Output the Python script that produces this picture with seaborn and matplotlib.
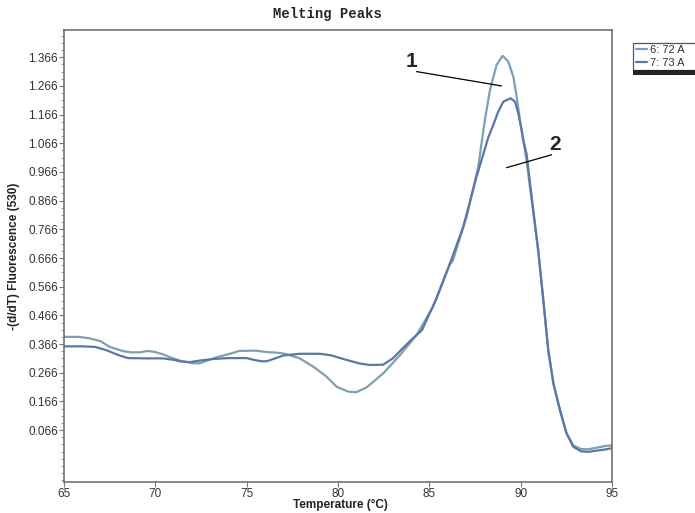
import numpy as np
import pandas as pd
import matplotlib
matplotlib.use("Agg")
import matplotlib.pyplot as plt
from matplotlib.patches import Rectangle
from matplotlib.ticker import MultipleLocator, FixedLocator
import seaborn as sns

# ---- data ----
temp_6 = [65.0, 65.8, 66.4, 67.0, 67.5, 68.25, 68.7, 69.16, 69.6, 70.0, 70.43, 70.8, 71.35, 72.08,
          72.44, 72.81, 73.36, 74.09, 74.6, 75.5, 76.09, 76.64, 77.0, 77.37, 77.9, 78.65, 79.38,
          79.93, 80.56, 81.0, 81.57, 82.48, 83.4, 84.3, 85.2, 86.1, 86.3, 87.04, 87.68, 88.04,
          88.32, 88.68, 89.01, 89.32, 89.6, 89.78, 89.96, 90.14, 90.32, 90.6, 90.96, 91.24, 91.51,
          91.79, 92.15, 92.51, 92.88, 93.3, 93.7, 94.1, 94.6, 95.0]
fluo_6 = [0.391, 0.391, 0.386, 0.376, 0.356, 0.341, 0.337, 0.337, 0.342, 0.338, 0.330, 0.320, 0.308,
          0.299, 0.299, 0.308, 0.320, 0.332, 0.342, 0.343, 0.338, 0.336, 0.333, 0.327, 0.316, 0.287,
          0.252, 0.217, 0.200, 0.198, 0.215, 0.264, 0.328, 0.397, 0.496, 0.641, 0.659, 0.810, 0.985,
          1.147, 1.252, 1.339, 1.371, 1.351, 1.298, 1.229, 1.147, 1.078, 1.008, 0.869, 0.693, 0.519,
          0.345, 0.229, 0.136, 0.055, 0.012, 0.000, -0.001, 0.004, 0.010, 0.013]

temp_7 = [65.0, 66.0, 66.7, 67.3, 68.0, 68.5, 69.5, 70.4, 71.0, 71.4, 71.9, 72.5, 73.2, 74.0, 75.0,
          75.45, 75.8, 76.1, 76.6, 77.0, 77.9, 79.0, 79.6, 80.5, 81.2, 81.75, 82.47, 83.0, 83.9,
          84.6, 85.4, 86.2, 86.86, 87.59, 88.22, 88.5, 88.77, 89.05, 89.45, 89.69, 89.87, 90.05,
          90.14, 90.32, 90.6, 90.96, 91.24, 91.51, 91.79, 92.15, 92.51, 92.88, 93.3, 93.7, 94.1,
          94.6, 95.0]
fluo_7 = [0.358, 0.358, 0.356, 0.345, 0.327, 0.317, 0.316, 0.316, 0.311, 0.305, 0.303, 0.309, 0.314,
          0.317, 0.317, 0.310, 0.306, 0.306, 0.317, 0.326, 0.332, 0.332, 0.327, 0.310, 0.298, 0.293,
          0.294, 0.316, 0.374, 0.415, 0.526, 0.659, 0.776, 0.950, 1.085, 1.130, 1.176, 1.211, 1.223,
          1.211, 1.171, 1.113, 1.078, 1.030, 0.880, 0.693, 0.519, 0.345, 0.229, 0.136, 0.055, 0.008,
          -0.008, -0.010, -0.006, -0.002, 0.003]

labels = ["6: 72 A", "7: 73 A"]
colors = ["#7f9fb2", "#5a78a6"]
y_ticks = [0.066, 0.166, 0.266, 0.366, 0.466, 0.566, 0.666, 0.766, 0.866, 0.966,
           1.066, 1.166, 1.266, 1.366]
x_ticks = [65, 70, 75, 80, 85, 90, 95]

df = pd.concat([
    pd.DataFrame({"Temperature": temp_6, "Fluorescence": fluo_6, "Sample": labels[0]}),
    pd.DataFrame({"Temperature": temp_7, "Fluorescence": fluo_7, "Sample": labels[1]}),
], ignore_index=True)

# ---- style ----
sns.set_style("ticks")
plt.rcParams["font.family"] = ["Liberation Sans", "DejaVu Sans"]

W, H = 695, 513
fig = plt.figure(figsize=(W / 100, H / 100), dpi=100)
ax = fig.add_axes([64 / W, 1 - 481.7 / H, (612 - 64) / W, (481.7 - 30) / H])

sns.lineplot(data=df, x="Temperature", y="Fluorescence", hue="Sample",
             palette=dict(zip(labels, colors)), estimator=None, sort=False,
             linewidth=1.6, ax=ax)

ax.set_xlim(65, 95)
ax.set_ylim(-0.114, 1.461)
ax.xaxis.set_major_locator(FixedLocator(x_ticks))
ax.yaxis.set_major_locator(FixedLocator(y_ticks))
ax.yaxis.set_minor_locator(MultipleLocator(0.025, offset=0.066))
ax.set_yticklabels([f"{v:.3f}" for v in y_ticks])
ax.set_xticklabels([str(v) for v in x_ticks])
ax.tick_params(axis="both", which="major", labelsize=8.5, labelcolor="#333333",
               color="#777777", length=3.5, width=0.8, pad=0.8)
ax.tick_params(axis="y", which="minor", color="#999999", length=2.2, width=0.7)
for s in ax.spines.values():
    s.set_visible(True)
    s.set_color("#666666")
    s.set_linewidth(1.1)
ax.set_xlabel("")
ax.set_ylabel("")

# annotations
ax.plot([84.3, 88.95], [1.316, 1.266], color="black", lw=0.9)
ax.text(84.05, 1.350, "1", fontsize=15, fontweight="bold", ha="center", va="center")
ax.plot([91.69, 89.23], [1.026, 0.981], color="black", lw=0.9)
ax.text(91.87, 1.062, "2", fontsize=15, fontweight="bold", ha="center", va="center")

# texts
fig.text(327 / W, 1 - 14 / H, "Melting Peaks", family="Liberation Mono", weight="bold",
         size=10, ha="center", va="center")
fig.text(14 / W, 1 - 256 / H, "-(d/dT) Fluorescence (530)", weight="bold", size=8.5,
         rotation=90, ha="center", va="center", color="#222222")
fig.text(340 / W, 1 - 505 / H, "Temperature (°C)", weight="bold", size=8.5,
         ha="center", va="center", color="#222222")

# legend
leg = ax.legend(loc="upper left", bbox_to_anchor=(634 / W, 1 - 43 / H),
                bbox_transform=fig.transFigure, frameon=False, fontsize=8,
                handlelength=1.0, handletextpad=0.3, borderpad=0.15,
                labelspacing=0.3, borderaxespad=0)
for t in leg.get_texts():
    t.set_color("#333333")
fig.add_artist(Rectangle((632.5 / W, 1 - 70 / H), 70 / W, 27 / H, transform=fig.transFigure,
                         fill=False, ec="#555555", lw=0.9))
fig.add_artist(Rectangle((633 / W, 1 - 75 / H), 70 / W, 5 / H, transform=fig.transFigure,
                         fc="#222222", ec="none"))

fig.savefig("out.png", dpi=100)
